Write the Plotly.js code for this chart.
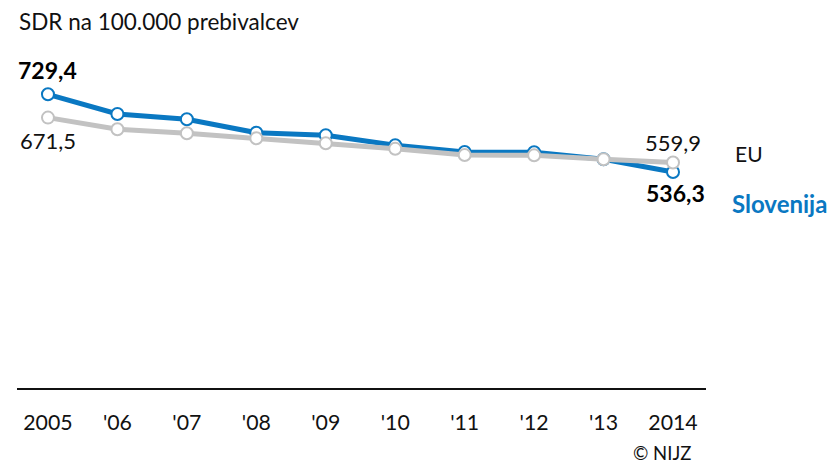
<!DOCTYPE html>
<html>
<head>
<meta charset="utf-8">
<script src="https://cdn.plot.ly/plotly-3.0.1.min.js"></script>
<style>
  body { margin: 0; background: #fff; }
  #chart { width: 830px; height: 465px; }
</style>
</head>
<body>
<div id="chart"></div>
<script>
var years = [2005, 2006, 2007, 2008, 2009, 2010, 2011, 2012, 2013, 2014];
var yearLabels = ["2005", "'06", "'07", "'08", "'09", "'10", "'11", "'12", "'13", "2014"];
var slovenija = [729.4, 680.5, 667.3, 634.0, 627.6, 602.7, 586.0, 585.4, 568.0, 536.3];
var eu = [671.5, 642.5, 632.6, 620.1, 607.7, 594.3, 578.7, 577.9, 568.0, 559.9];

var FONT = "Source Sans Pro, Lato, Noto Sans, sans-serif";
var BLUE = "#0a78c2";
var GREY = "#c2c2c2";

var traces = [
  {
    x: years, y: slovenija, type: "scatter", mode: "lines+markers", name: "Slovenija",
    line: {color: BLUE, width: 5},
    marker: {size: 12, color: "#fff", line: {color: BLUE, width: 2}}
  },
  {
    x: years, y: eu, type: "scatter", mode: "lines+markers", name: "EU",
    line: {color: GREY, width: 5},
    marker: {size: 12, color: "#fff", line: {color: GREY, width: 2}}
  }
];

var n = years.length - 1;
var annotations = [
  {x: years[0], y: slovenija[0], text: "<b>729,4</b>", yshift: 24, font: {size: 23, color: "#000"}},
  {x: years[0], y: eu[0], text: "671,5", yshift: -23, font: {size: 22, color: "#111"}},
  {x: years[n], y: eu[n], text: "559,9", yshift: 20, font: {size: 22, color: "#111"}},
  {x: years[n], y: slovenija[n], text: "<b>536,3</b>", yshift: -21, xshift: 2, font: {size: 23, color: "#000"}},
  {x: 733, y: 153, xref: "paper", yref: "paper", text: "EU", font: {size: 21, color: "#111"}, xanchor: "left"},
  {x: 730, y: 203, xref: "paper", yref: "paper", text: "<b>Slovenija</b>", font: {size: 24, color: BLUE}, xanchor: "left"},
  {x: 17, y: 22, xref: "paper", yref: "paper", text: "SDR na 100.000 prebivalcev", font: {size: 22.5, color: "#111"}, xanchor: "left"},
  {x: 693, y: 453, xref: "paper", yref: "paper", text: "© NIJZ", font: {size: 18.5, color: "#111"}, xanchor: "right"}
];

// convert pixel-positioned annotations to paper coords
var L = 17, R = 124, T = 60, B = 77, W = 830, H = 465;
annotations.forEach(function (a) {
  if (a.xref === "paper") {
    a.x = (a.x - L) / (W - L - R);
    a.y = (H - B - a.y) / (H - T - B);
    a.yanchor = "middle";
  }
  a.showarrow = false;
  a.font.family = FONT;
});

var layout = {
  width: W, height: H,
  margin: {l: L, r: R, t: T, b: B},
  paper_bgcolor: "#fff", plot_bgcolor: "#fff",
  showlegend: false,
  font: {family: FONT, size: 21, color: "#111"},
  xaxis: {
    range: [2004.554, 2014.475],
    tickvals: years, ticktext: yearLabels,
    showgrid: false, zeroline: false,
    showline: true, linecolor: "#111", linewidth: 2,
    ticks: "outside", ticklen: 14, tickcolor: "rgba(0,0,0,0)",
    tickfont: {size: 21.3, color: "#111"}
  },
  yaxis: {
    range: [0, 814.6], visible: false, fixedrange: true
  },
  annotations: annotations
};

Plotly.newPlot("chart", traces, layout, {displayModeBar: false, staticPlot: true});
</script>
</body>
</html>
